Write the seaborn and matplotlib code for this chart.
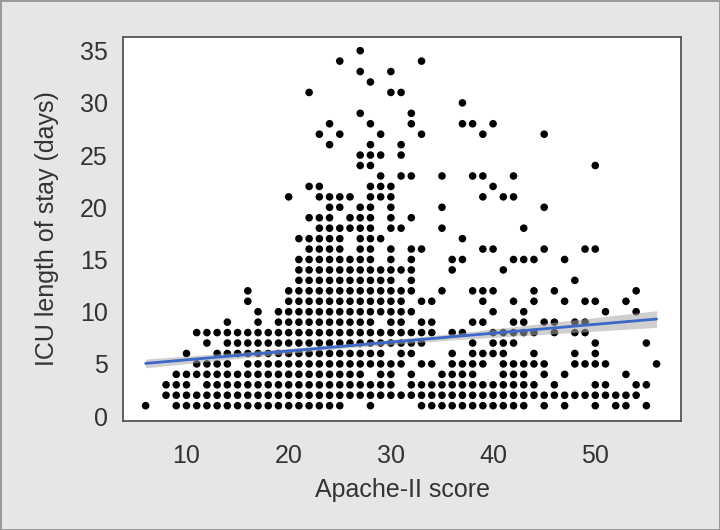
import numpy as np
import pandas as pd
import matplotlib
matplotlib.use("Agg")
import matplotlib.pyplot as plt
import seaborn as sns

los_1 = [6, 9, 10, 11, 12, 13, 14, 15, 16, 17, 18, 19, 20, 21, 22, 23, 24, 25, 28,
         33, 34, 35, 36, 37, 38, 39, 40, 41, 42, 43, 45, 47, 50, 52, 53, 55]
los_2 = [8, 9, 10, 11, 12, 13, 14, 15, 16, 17, 18, 19, 20, 21, 22, 23, 24, 25, 26, 27,
         28, 29, 30, 31, 32, 33, 34, 35, 36, 37, 38, 39, 40, 41, 42, 43, 44, 45, 46,
         47, 48, 49, 50, 51, 52, 53, 54]
los_3 = [8, 9, 10, 12, 13, 14, 15, 16, 17, 18, 19, 20, 21, 22, 23, 24, 25, 26, 27, 28,
         29, 30, 32, 33, 34, 35, 36, 37, 38, 39, 40, 41, 42, 43, 44, 46, 50, 51, 54, 55]
los_4 = [9, 10, 11, 12, 13, 14, 15, 16, 17, 18, 19, 20, 21, 22, 23, 24, 25, 26, 27,
         29, 30, 32, 35, 36, 37, 38, 41, 42, 43, 45, 47, 53]
los_5 = [11, 12, 13, 14, 16, 17, 18, 19, 20, 21, 22, 23, 24, 25, 26, 27, 28, 29, 30, 31,
         33, 34, 36, 37, 38, 39, 41, 42, 43, 44, 45, 48, 49, 50, 51, 56]
los_6 = [10, 13, 14, 15, 16, 17, 18, 19, 20, 21, 22, 23, 24, 25, 26, 27, 28, 29,
         31, 32, 36, 38, 39, 40, 41, 44, 48, 50]
los_7 = [12, 14, 15, 16, 17, 18, 19, 20, 21, 22, 23, 24, 25, 26, 27, 28, 29, 30, 31, 32,
         33, 38, 40, 41, 42, 50, 55]
los_8 = [11, 12, 13, 14, 15, 16, 17, 18, 19, 20, 21, 22, 23, 24, 25, 26, 27, 28, 29, 30,
         31, 32, 33, 34, 36, 37, 40, 41, 42, 43, 44, 46, 48, 49]
los_9 = [14, 17, 19, 20, 21, 22, 23, 24, 25, 26, 27, 28, 30, 31, 33, 34, 38, 39, 42, 43,
         45, 46, 48, 49]
los_10 = [17, 19, 20, 21, 22, 23, 24, 25, 26, 27, 28, 29, 30, 31, 32, 40, 43, 51, 54]
los_11 = [16, 20, 21, 22, 23, 24, 25, 26, 27, 28, 29, 30, 31, 33, 34, 39, 42, 44, 47,
          49, 50, 53]
los_12 = [16, 20, 21, 22, 23, 24, 25, 26, 27, 28, 29, 30, 31, 32, 35, 38, 39, 40, 44,
          46, 54]
los_13 = [21, 22, 23, 24, 25, 26, 27, 28, 29, 30, 32, 48]
los_14 = [21, 22, 23, 24, 25, 26, 27, 28, 29, 30, 31, 32, 36, 41]
los_15 = [21, 22, 23, 24, 25, 26, 27, 28, 30, 32, 36, 37, 42, 43, 44, 47]
los_16 = [22, 23, 24, 25, 27, 28, 30, 32, 33, 39, 40, 45, 49, 50]
los_17 = [21, 22, 23, 24, 25, 27, 28, 29, 37]
los_18 = [23, 24, 25, 26, 27, 28, 30, 31, 35, 43]
los_19 = [22, 23, 24, 26, 27, 28, 30, 32]
los_20 = [24, 25, 27, 28, 30, 35, 45]
los_21 = [20, 23, 24, 25, 26, 28, 29, 30, 39, 41, 42]
los_22 = [22, 23, 28, 29, 30, 40]
los_23 = [29, 31, 32, 35, 38, 39, 42]
los_24 = [27, 28, 50]
los_25 = [27, 28, 29, 31]
los_26 = [24, 28, 31]
los_27 = [23, 25, 29, 33, 39, 45]
los_28 = [24, 28, 32, 37, 38, 40]
los_29 = [27, 32]
los_30 = [37]
los_31 = [22, 30, 31]
los_32 = [28]
los_33 = [27, 30]
los_34 = [25, 33]
los_35 = [27]

# fitted line and its 95% band (points overlap in the
# original, so the fit can't be recomputed from the visible dots)
fit_x = [6, 16, 26, 36, 46, 56]
fit_y = [5.05, 5.9, 6.75, 7.6, 8.45, 9.3]
fit_lo = [4.63, 5.62, 6.55, 7.3, 7.9, 8.5]
fit_hi = [5.47, 6.18, 6.95, 7.9, 9.0, 10.1]

rows = {1: los_1, 2: los_2, 3: los_3, 4: los_4, 5: los_5, 6: los_6, 7: los_7,
        8: los_8, 9: los_9, 10: los_10, 11: los_11, 12: los_12, 13: los_13,
        14: los_14, 15: los_15, 16: los_16, 17: los_17, 18: los_18, 19: los_19,
        20: los_20, 21: los_21, 22: los_22, 23: los_23, 24: los_24, 25: los_25,
        26: los_26, 27: los_27, 28: los_28, 29: los_29, 30: los_30, 31: los_31,
        32: los_32, 33: los_33, 34: los_34, 35: los_35}

df = pd.DataFrame(
    [(a, los) for los, scores in rows.items() for a in scores],
    columns=["apache", "los"],
)

sns.set_style("white")
plt.rcParams["font.family"] = ["Liberation Sans", "DejaVu Sans"]

fig = plt.figure(figsize=(7.2, 5.3), dpi=100, facecolor="#e6e6e6",
                 edgecolor="#9a9a9a", linewidth=2)
ax = fig.add_axes([0.171, 0.206, 0.775, 0.724])

sns.scatterplot(data=df, x="apache", y="los", color="black", s=30,
                edgecolor="none", ax=ax, zorder=2)
ax.fill_between(fit_x, fit_lo, fit_hi, color="#a8a8a8", alpha=0.55,
                lw=0, zorder=3)
sns.lineplot(x=fit_x, y=fit_y, color="#3d67c8", lw=2, ax=ax, zorder=4)

ax.set_xlim(3.8, 58.4)
ax.set_ylim(-0.45, 36.3)
ax.set_xticks([10, 20, 30, 40, 50])
ax.set_yticks([0, 5, 10, 15, 20, 25, 30, 35])
ax.tick_params(axis="both", direction="out", length=7, width=1.2,
               color="#555555", labelsize=18, labelcolor="#333333", pad=4)
ax.tick_params(axis="x", pad=10)
for sp in ax.spines.values():
    sp.set_color("#555555")
    sp.set_linewidth(1.3)

ax.set_xlabel("Apache-II score", fontsize=18, color="#333333", labelpad=7)
ax.set_ylabel("ICU length of stay (days)", fontsize=18, color="#333333", labelpad=15)

fig.savefig("out.png", dpi=100, facecolor=fig.get_facecolor(),
            edgecolor=fig.get_edgecolor())
